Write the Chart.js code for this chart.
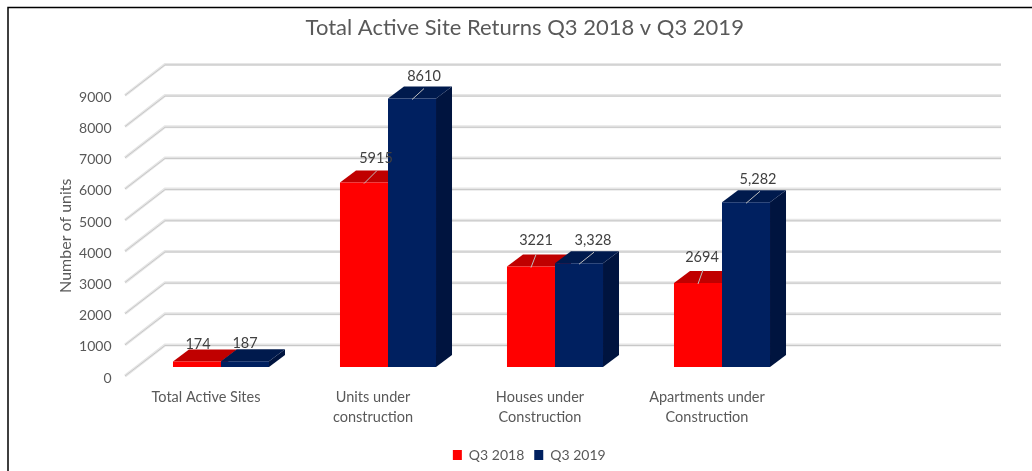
<!DOCTYPE html>
<html><head><meta charset="utf-8">
<style>html,body{margin:0;padding:0;background:#fff}canvas{display:block}</style>
<script src="https://cdn.jsdelivr.net/npm/chart.js@4"></script>
</head><body><canvas id="c" width="1032" height="471"></canvas>
<script>
const categories = ['Total Active Sites', ['Units under','construction'], ['Houses under','Construction'], ['Apartments under','Construction'], ''];
const q3_2018 = [174, 5915, 3221, 2694, null];
const q3_2019 = [187, 8610, 3328, 5282, null];
const labels_2018 = ['174', '5915', '3221', '2694', ''];
const labels_2019 = ['187', '8610', '3,328', '5,282', ''];
const yTicks = [0,1000,2000,3000,4000,5000,6000,7000,8000,9000];

// layout of the pseudo-3D look (pixels)
const DEPTH_X = 16, DEPTH_Y = 12;
const WALL_DX = 40, WALL_DY = 31, PLANE_DX = 12.5;
const AREA_LEFT = 137.5, AREA_RIGHT = 972.5;
// value label offsets from bar top centre
const labelOffset_2018 = [[1,-17],[12,-24],[5,-26],[4,-26]];
const labelOffset_2019 = [[0,-18],[12,-22],[14,-23],[12,-23]];
const leaderEnd_2018 = [null,[13,-12],[5,-12],[5,-13]];
const leaderEnd_2019 = [null,[12,-10],[15,-11],[14,-11]];

const font = 'Lato, Carlito, Calibri, sans-serif';
const styles = [
  {top:'#C00000', side:'#A00000'},
  {top:'#001A4D', side:'#00143F'}
];

const decor = {
  id:'decor',
  afterLayout(chart){
    chart.legend.left += 17; chart.legend.right += 17;
    chart.legend.top += 1; chart.legend.bottom += 1;
    chart.titleBlock.left += 12.5; chart.titleBlock.right += 12.5;
  },
  beforeDatasetsDraw(chart){
    const {ctx, scales:{y}, chartArea:a} = chart;
    ctx.save();
    // frame
    ctx.strokeStyle = '#000'; ctx.lineWidth = 1.5;
    ctx.beginPath(); ctx.moveTo(8,471); ctx.lineTo(8,7.5); ctx.lineTo(1032,7.5); ctx.stroke();
    // walls
    const x0 = a.left - PLANE_DX, x1 = x0 + WALL_DX, x2 = a.right + 28.5;
    yTicks.forEach(v=>{
      const py = y.getPixelForValue(v), by = py - WALL_DY;
      ctx.strokeStyle = '#E6E6E6'; ctx.lineWidth = 3;
      ctx.beginPath(); ctx.moveTo(x0,py); ctx.lineTo(x1,by); ctx.lineTo(x2,by); ctx.stroke();
      ctx.strokeStyle = '#C8C8C8'; ctx.lineWidth = 1;
      ctx.beginPath(); ctx.moveTo(x0,py); ctx.lineTo(x1,by+.5); ctx.lineTo(x2,by+.5); ctx.stroke();
    });
    // extrusions
    [0,1].forEach(d=>{
      const values = chart.data.datasets[d].data;
      chart.getDatasetMeta(d).data.forEach((b,i)=>{
        if (values[i] == null) return;
        const l=b.x-b.width/2, r=b.x+b.width/2, t=b.y, bt=b.base;
        ctx.fillStyle = styles[d].side;
        ctx.beginPath(); ctx.moveTo(r,t); ctx.lineTo(r+DEPTH_X,t-DEPTH_Y); ctx.lineTo(r+DEPTH_X,bt-DEPTH_Y); ctx.lineTo(r,bt); ctx.closePath(); ctx.fill();
        ctx.fillStyle = styles[d].top;
        ctx.beginPath(); ctx.moveTo(l,t); ctx.lineTo(l+DEPTH_X,t-DEPTH_Y); ctx.lineTo(r+DEPTH_X,t-DEPTH_Y); ctx.lineTo(r,t); ctx.closePath(); ctx.fill();
      });
    });
    ctx.restore();
  },
  afterDatasetsDraw(chart){
    const {ctx} = chart;
    ctx.save();
    ctx.font = '14.5px '+font; ctx.textAlign='center'; ctx.textBaseline='middle';
    const sets = [[labels_2018,labelOffset_2018,leaderEnd_2018],[labels_2019,labelOffset_2019,leaderEnd_2019]];
    [0,1].forEach(d=>{
      const [txt,off,lead] = sets[d];
      chart.getDatasetMeta(d).data.forEach((b,i)=>{
        if (!txt[i]) return;
        if (lead[i]) {
          ctx.strokeStyle='#BFBFBF'; ctx.lineWidth=1;
          ctx.beginPath(); ctx.moveTo(b.x,b.y+1); ctx.lineTo(b.x+lead[i][0],b.y+lead[i][1]); ctx.stroke();
        }
        ctx.fillStyle='#404040';
        ctx.fillText(txt[i], b.x+off[i][0], b.y+off[i][1]);
      });
    });
    ctx.restore();
  }
};

new Chart(document.getElementById('c'), {
  type:'bar',
  data:{ labels:categories, datasets:[
    {label:'Q3 2018', data:q3_2018, backgroundColor:'#FF0000', yAxisID:'yBar', categoryPercentage:0.575, barPercentage:1},
    {label:'Q3 2019', data:q3_2019, backgroundColor:'#002060', yAxisID:'yBar', categoryPercentage:0.575, barPercentage:1}
  ]},
  plugins:[decor],
  options:{
    responsive:false, animation:false,
    layout:{padding:{left:52, right:1032-AREA_RIGHT, top:15, bottom:0}},
    font:{family:font},
    plugins:{
      tooltip:{enabled:false},
      title:{display:true, text:'Total Active Site Returns Q3 2018 v Q3 2019', color:'#595959',
        font:{family:font, size:22, weight:'normal'}, padding:{top:0,bottom:54}},
      legend:{position:'bottom', labels:{boxWidth:9, boxHeight:10, color:'#595959', font:{family:font,size:14}, padding:10}}
    },
    scales:{
      x:{ grid:{display:false}, border:{display:false},
        ticks:{color:'#595959', font:{family:font,size:14.5,lineHeight:1.38}, maxRotation:0, minRotation:0, autoSkip:false, labelOffset:-15, padding:3},
        afterFit(s){ s.height = 61; } },
      y:{ min:0, max:9000, position:'left', grid:{display:false}, border:{display:false},
        ticks:{color:'#595959', font:{family:font,size:14}, stepSize:1000, padding:18, drawTicks:false, labelOffset:2, callback:v=>String(v)},
        title:{display:true, text:'Number of units', color:'#595959', font:{family:font,size:16}},
        afterFit(s){ s.width = AREA_LEFT-52; } },
      yBar:{ display:false, min:-289, max:8711, position:'left' }
    }
  }
});
</script></body></html>
